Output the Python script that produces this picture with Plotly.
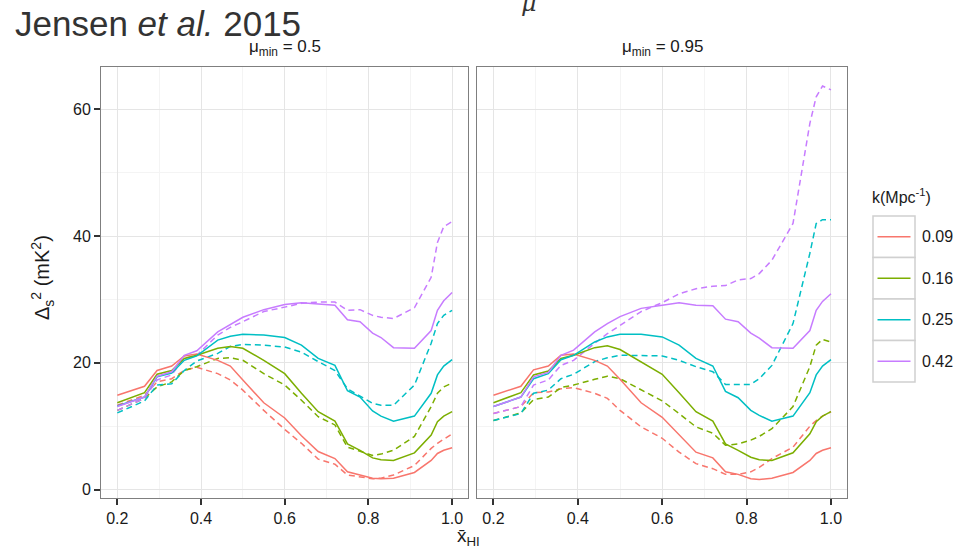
import plotly.graph_objects as go

# ---------------- data ----------------
x_hi = [0.2, 0.265, 0.295, 0.33, 0.36, 0.39, 0.44, 0.47, 0.5, 0.55, 0.6, 0.64,
        0.68, 0.72, 0.75, 0.78, 0.81, 0.83, 0.86, 0.91, 0.95, 0.965, 0.98, 1.0]

k_labels = ["0.09", "0.16", "0.25", "0.42"]
panels = ["μ<sub>min</sub> = 0.5", "μ<sub>min</sub> = 0.95"]

# mu_min = 0.5 panel (solid / dashed)
L_solid_009 = [14.9, 16.3, 18.8, 19.5, 21.1, 21.4, 20.4, 19.5, 17.3, 13.7, 11.3, 8.5,
               6.0, 4.9, 2.8, 2.3, 1.8, 1.7, 1.8, 2.7, 4.6, 5.7, 6.2, 6.6]
L_dash_009 = [13.3, 14.9, 17.0, 17.5, 18.8, 19.3, 18.3, 17.3, 15.7, 12.5, 9.5, 7.3,
              4.8, 4.0, 2.3, 2.0, 1.7, 1.8, 2.3, 3.8, 6.5, 7.3, 8.0, 8.8]
L_solid_016 = [13.7, 15.3, 18.2, 18.8, 20.7, 21.2, 22.3, 22.6, 22.3, 20.4, 18.3, 15.2,
               12.3, 10.8, 7.2, 6.2, 5.0, 4.7, 4.6, 5.8, 8.6, 10.7, 11.6, 12.3]
L_dash_016 = [12.5, 14.4, 16.2, 17.0, 18.8, 19.4, 20.7, 20.8, 20.4, 18.3, 16.5, 14.1,
              11.5, 10.2, 6.7, 6.0, 5.4, 5.6, 6.2, 8.4, 13.1, 15.2, 16.2, 16.8]
L_solid_025 = [13.2, 14.6, 17.8, 18.4, 20.4, 21.1, 23.6, 24.2, 24.5, 24.4, 24.0, 22.8,
               20.7, 19.6, 15.6, 14.6, 12.4, 11.6, 10.8, 11.6, 15.2, 18.1, 19.5, 20.5]
L_dash_025 = [12.1, 14.0, 16.5, 16.7, 18.8, 20.3, 21.5, 22.6, 22.9, 22.8, 22.5, 21.7,
              20.2, 18.8, 15.9, 14.8, 13.6, 13.3, 13.3, 16.5, 23.1, 26.2, 27.5, 28.3]
L_solid_042 = [13.1, 14.6, 17.9, 18.6, 21.2, 21.9, 24.9, 26.1, 27.2, 28.4, 29.2, 29.5,
               29.3, 29.1, 26.8, 26.5, 24.7, 24.0, 22.4, 22.3, 25.1, 28.3, 29.8, 31.1]
L_dash_042 = [12.5, 14.4, 17.3, 18.1, 20.7, 21.2, 24.4, 25.6, 26.5, 28.1, 28.8, 29.4,
              29.6, 29.6, 28.3, 28.4, 27.5, 27.2, 27.0, 28.7, 33.5, 39.0, 41.5, 42.3]

# mu_min = 0.95 panel (solid / dashed)
R_solid_009 = [14.9, 16.3, 18.9, 19.5, 21.2, 21.4, 20.4, 19.5, 17.4, 13.7, 11.4, 8.6,
               5.9, 5.0, 2.8, 2.4, 1.7, 1.6, 1.8, 2.7, 4.6, 5.7, 6.2, 6.6]
R_dash_009 = [12.0, 13.1, 15.3, 15.4, 15.9, 16.1, 15.2, 14.4, 12.5, 9.9, 8.1, 5.9,
              4.1, 3.3, 2.4, 2.4, 2.8, 3.5, 4.9, 6.7, 10.0, 10.9, 11.6, 12.3]
R_solid_016 = [13.7, 15.3, 18.1, 18.7, 20.7, 21.2, 22.4, 22.7, 22.1, 20.2, 18.2, 15.3,
               12.3, 10.8, 7.2, 6.2, 5.1, 4.7, 4.6, 5.8, 8.8, 10.7, 11.6, 12.3]
R_dash_016 = [10.9, 12.1, 14.2, 14.6, 16.1, 16.5, 17.4, 17.9, 17.5, 15.7, 14.0, 12.0,
              9.9, 8.9, 7.0, 7.2, 7.8, 8.4, 9.6, 13.1, 19.4, 22.8, 23.7, 23.3]
R_solid_025 = [13.1, 14.6, 17.5, 18.3, 20.5, 21.2, 23.3, 24.1, 24.5, 24.5, 24.1, 22.8,
               20.7, 19.5, 15.5, 14.5, 12.5, 11.7, 10.8, 11.6, 15.3, 18.1, 19.5, 20.5]
R_dash_025 = [10.9, 12.0, 15.2, 15.7, 17.5, 18.2, 20.2, 20.8, 21.2, 21.2, 21.1, 20.4,
              19.4, 18.6, 16.6, 16.6, 16.6, 17.5, 19.6, 26.2, 37.3, 42.0, 42.6, 42.6]
R_solid_042 = [13.1, 14.6, 17.8, 18.5, 21.2, 22.0, 24.9, 26.2, 27.3, 28.6, 29.1, 29.5,
               29.1, 29.0, 26.9, 26.5, 24.7, 23.9, 22.4, 22.3, 25.1, 28.3, 29.7, 30.9]
R_dash_042 = [12.0, 13.1, 16.5, 17.3, 19.6, 20.4, 23.1, 24.6, 25.9, 28.1, 29.5, 30.9,
              31.7, 32.1, 32.2, 33.1, 33.3, 34.1, 36.2, 42.0, 57.8, 62.0, 63.7, 63.1]

x_ticks = [0.2, 0.4, 0.6, 0.8, 1.0]
y_ticks = [0, 20, 40, 60]

# ---------------- styling ----------------
colors = ["#F8766D", "#7CAE00", "#00BFC4", "#C77CFF"]
W, H = 953, 548
L, R, T, B = 101, 847, 67, 498  # plot area in pixels


def px(xpix):
    return (xpix - L) / (R - L)


def py(ypix):
    return (B - ypix) / (B - T)


fig = go.Figure()

left_sets = [(L_solid_009, L_dash_009), (L_solid_016, L_dash_016),
             (L_solid_025, L_dash_025), (L_solid_042, L_dash_042)]
right_sets = [(R_solid_009, R_dash_009), (R_solid_016, R_dash_016),
              (R_solid_025, R_dash_025), (R_solid_042, R_dash_042)]

for axes, sets in (("x", left_sets), ("x2", right_sets)):
    yax = "y" if axes == "x" else "y2"
    for i, (sol, das) in enumerate(sets):
        fig.add_trace(go.Scatter(x=x_hi, y=das, mode="lines", xaxis=axes, yaxis=yax,
                                 line=dict(color=colors[i], width=1.5, dash="6px,4px"),
                                 showlegend=False, hoverinfo="skip"))
    for i, (sol, das) in enumerate(sets):
        fig.add_trace(go.Scatter(x=x_hi, y=sol, mode="lines", xaxis=axes, yaxis=yax,
                                 line=dict(color=colors[i], width=1.5),
                                 showlegend=False, name=k_labels[i]))

split_l = px(468)
split_r = px(477)
xr = [0.161, 1.038]
yr = [-1.33, 66.7]

common_x = dict(range=xr, tickvals=x_ticks, ticktext=[f"{v:.1f}" for v in x_ticks],
                showline=True, mirror=True, linecolor="#7f7f7f", linewidth=1,
                showgrid=True, gridcolor="#e5e5e5", gridwidth=1,
                minor=dict(dtick=0.1, tick0=0.1, showgrid=True, gridcolor="#f4f4f4",
                           gridwidth=1, ticks=""),
                ticks="outside", ticklen=6, tickwidth=1.5, tickcolor="#333333",
                tickfont=dict(size=16, color="#1a1a1a"), zeroline=False,
                fixedrange=True)
common_y = dict(range=yr, tickvals=y_ticks,
                showline=True, mirror=True, linecolor="#7f7f7f", linewidth=1,
                showgrid=True, gridcolor="#e5e5e5", gridwidth=1,
                minor=dict(dtick=10, tick0=10, showgrid=True, gridcolor="#f4f4f4",
                           gridwidth=1, ticks=""),
                zeroline=False, fixedrange=True)

fig.update_layout(
    width=W, height=H,
    margin=dict(l=L, r=W - R, t=T, b=H - B, pad=0),
    paper_bgcolor="white", plot_bgcolor="white",
    font=dict(family="Liberation Sans, Arial, sans-serif", color="#1a1a1a"),
    showlegend=False,
    xaxis=dict(domain=[0, split_l], anchor="y", **common_x),
    xaxis2=dict(domain=[split_r, 1], anchor="y2", **common_x),
    yaxis=dict(domain=[0, 1], anchor="x", ticks="outside", ticklen=6, tickwidth=1.5,
               tickcolor="#333333", tickfont=dict(size=16, color="#1a1a1a"), **common_y),
    yaxis2=dict(domain=[0, 1], anchor="x2", showticklabels=False, ticks="", **common_y),
)

ann = []
# title
ann.append(dict(text="Jensen <i>et al.</i> 2015", x=px(13), y=py(23), xref="paper", yref="paper",
                xanchor="left", yanchor="middle", showarrow=False,
                font=dict(size=35, color="#333333")))
# cut-off mu at the top
ann.append(dict(text="<i>μ</i>", x=px(529), y=py(3), xref="paper", yref="paper",
                xanchor="center", yanchor="middle", showarrow=False,
                font=dict(size=24, color="#333333", family="DejaVu Serif, serif")))
# strip labels
ann.append(dict(text=panels[0], x=(0 + split_l) / 2, y=py(48), xref="paper", yref="paper",
                xanchor="center", yanchor="middle", showarrow=False, font=dict(size=17)))
ann.append(dict(text=panels[1], x=(split_r + 1) / 2, y=py(48), xref="paper", yref="paper",
                xanchor="center", yanchor="middle", showarrow=False, font=dict(size=17)))
# axis titles
ann.append(dict(text="x̄<sub>HI</sub>", x=px(468), y=py(537), xref="paper", yref="paper",
                xanchor="center", yanchor="middle", showarrow=False, font=dict(size=19)))
ann.append(dict(text="Δ<sub>s</sub><sup>2</sup> (mK<sup>2</sup>)", x=px(42), y=py(278),
                xref="paper", yref="paper", xanchor="center", yanchor="middle",
                textangle=-90, showarrow=False, font=dict(size=20)))
# legend
ann.append(dict(text="k(Mpc<sup>-1</sup>)", x=px(870), y=py(196), xref="paper", yref="paper",
                xanchor="left", yanchor="middle", showarrow=False, font=dict(size=16)))

shapes = []
box_top = 216
box_h = 41.5
for i, lab in enumerate(k_labels):
    y0 = box_top + i * box_h
    y1 = y0 + box_h
    yc = (y0 + y1) / 2
    shapes.append(dict(type="rect", xref="paper", yref="paper",
                       x0=px(873), x1=px(915), y0=py(y1), y1=py(y0),
                       line=dict(color="#d0d0d0", width=1.5), fillcolor="white"))
    shapes.append(dict(type="line", xref="paper", yref="paper",
                       x0=px(877.5), x1=px(910.5), y0=py(yc), y1=py(yc),
                       line=dict(color=colors[i], width=1.5)))
    ann.append(dict(text=lab, x=px(920), y=py(yc), xref="paper", yref="paper",
                    xanchor="left", yanchor="middle", showarrow=False, font=dict(size=16)))

fig.update_layout(annotations=ann, shapes=shapes)

fig.write_html("out.html")
